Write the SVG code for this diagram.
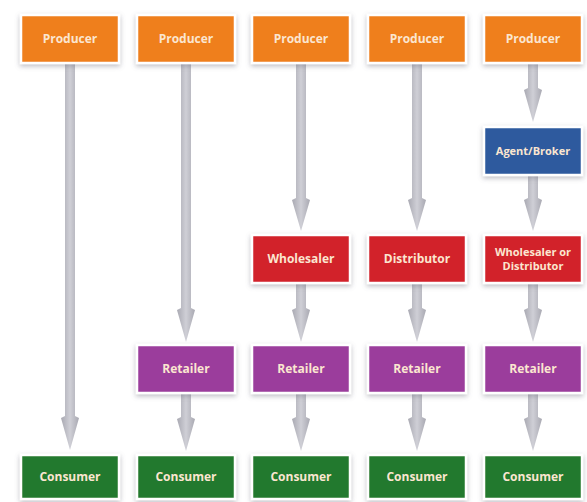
<svg xmlns="http://www.w3.org/2000/svg" width="587" height="502" viewBox="0 0 587 502">
<defs>
<filter id="sh" x="-20%" y="-20%" width="140%" height="150%">
<feGaussianBlur in="SourceAlpha" stdDeviation="2.5"/>
<feOffset dx="0" dy="2" result="b"/>
<feFlood flood-color="#6a6a7a" flood-opacity="0.45"/>
<feComposite in2="b" operator="in"/>
<feMerge><feMergeNode/><feMergeNode in="SourceGraphic"/></feMerge>
</filter>
<linearGradient id="shaft" x1="0" y1="0" x2="1" y2="0">
<stop offset="0" stop-color="#a9a9b2"/>
<stop offset="0.5" stop-color="#cfcfd6"/>
<stop offset="1" stop-color="#a9a9b2"/>
</linearGradient>
</defs>
<style>
.box{stroke:#ffffff;stroke-width:2.5;filter:url(#sh)}
.prod{fill:#ef7f1f}
.agent{fill:#2d5a9e}
.whole{fill:#d2202a}
.ret{fill:#9b3e9c}
.cons{fill:#24792d}
.t{font-family:"Open Sans","Liberation Sans",sans-serif;font-weight:bold;font-size:12px;text-anchor:middle;fill:#fbe6d0}
.t2{font-size:11px}
.arrow{fill:url(#shaft)}
</style>
<rect width="587" height="502" fill="#ffffff"/>
<g id="connectors">
<path class="arrow" d="M65,64 H75 V416 L79,418 L70,450 L61,418 L65,416 Z"/>
<path class="arrow" d="M181,64 H191 V308 L195,310 L186,342 L177,310 L181,308 Z"/>
<path class="arrow" d="M296,64 H306 V198 L310,200 L301,231 L292,200 L296,198 Z"/>
<path class="arrow" d="M412,64 H422 V198 L426,200 L417,231 L408,200 L412,198 Z"/>
<path class="arrow" d="M528,64 H538 V88 L542,90 L533,122 L524,90 L528,88 Z"/>
<path class="arrow" d="M528,176 H538 V198 L542,200 L533,231 L524,200 L528,198 Z"/>
<path class="arrow" d="M296,284 H306 V308 L310,310 L301,342 L292,310 L296,308 Z"/>
<path class="arrow" d="M412,284 H422 V308 L426,310 L417,342 L408,310 L412,308 Z"/>
<path class="arrow" d="M528,284 H538 V308 L542,310 L533,342 L524,310 L528,308 Z"/>
<path class="arrow" d="M181,394 H191 V417 L195,419 L186,451 L177,419 L181,417 Z"/>
<path class="arrow" d="M296,394 H306 V417 L310,419 L301,451 L292,419 L296,417 Z"/>
<path class="arrow" d="M412,394 H422 V417 L426,419 L417,451 L408,419 L412,417 Z"/>
<path class="arrow" d="M528,394 H538 V417 L542,419 L533,451 L524,419 L528,417 Z"/>
</g>
<g id="producer1"><rect class="box prod" x="21" y="15" width="98" height="48"/><text class="t" x="70" y="43">Producer</text></g>
<g id="producer2"><rect class="box prod" x="137" y="15" width="98" height="48"/><text class="t" x="186" y="43">Producer</text></g>
<g id="producer3"><rect class="box prod" x="252" y="15" width="98" height="48"/><text class="t" x="301" y="43">Producer</text></g>
<g id="producer4"><rect class="box prod" x="368" y="15" width="98" height="48"/><text class="t" x="417" y="43">Producer</text></g>
<g id="producer5"><rect class="box prod" x="484" y="15" width="98" height="48"/><text class="t" x="533" y="43">Producer</text></g>
<g id="agent5"><rect class="box agent" x="484" y="127" width="98" height="48"/><text class="t t2" x="533" y="155">Agent/Broker</text></g>
<g id="wholesaler3"><rect class="box whole" x="252" y="235" width="98" height="48"/><text class="t" x="301" y="263">Wholesaler</text></g>
<g id="distributor4"><rect class="box whole" x="368" y="235" width="98" height="48"/><text class="t" x="417" y="263">Distributor</text></g>
<g id="wholesaler5"><rect class="box whole" x="484" y="235" width="98" height="48"/><text class="t t2" x="533" y="256">Wholesaler or</text><text class="t t2" x="533" y="270">Distributor</text></g>
<g id="retailer2"><rect class="box ret" x="137" y="345" width="98" height="48"/><text class="t" x="186" y="373">Retailer</text></g>
<g id="retailer3"><rect class="box ret" x="252" y="345" width="98" height="48"/><text class="t" x="301" y="373">Retailer</text></g>
<g id="retailer4"><rect class="box ret" x="368" y="345" width="98" height="48"/><text class="t" x="417" y="373">Retailer</text></g>
<g id="retailer5"><rect class="box ret" x="484" y="345" width="98" height="48"/><text class="t" x="533" y="373">Retailer</text></g>
<g id="consumer1"><rect class="box cons" x="21" y="455" width="98" height="44"/><text class="t" x="70" y="481">Consumer</text></g>
<g id="consumer2"><rect class="box cons" x="137" y="455" width="98" height="44"/><text class="t" x="186" y="481">Consumer</text></g>
<g id="consumer3"><rect class="box cons" x="252" y="455" width="98" height="44"/><text class="t" x="301" y="481">Consumer</text></g>
<g id="consumer4"><rect class="box cons" x="368" y="455" width="98" height="44"/><text class="t" x="417" y="481">Consumer</text></g>
<g id="consumer5"><rect class="box cons" x="484" y="455" width="98" height="44"/><text class="t" x="533" y="481">Consumer</text></g>
</svg>
